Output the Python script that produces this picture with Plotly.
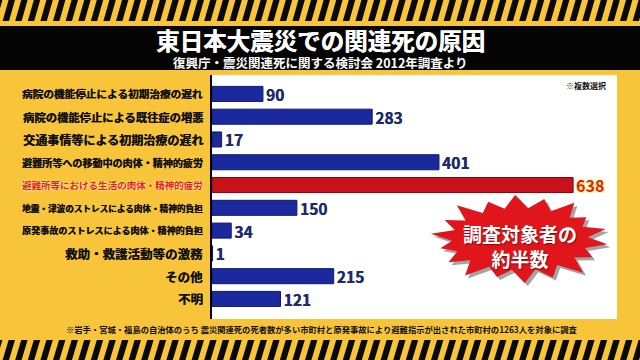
import numpy as np
import plotly.graph_objects as go

# ---------------- data ----------------
categories = [
    "病院の機能停止による初期治療の遅れ",
    "病院の機能停止による既往症の増悪",
    "交通事情等による初期治療の遅れ",
    "避難所等への移動中の肉体・精神的疲労",
    "避難所等における生活の肉体・精神的疲労",
    "地震・津波のストレスによる肉体・精神的負担",
    "原発事故のストレスによる肉体・精神的負担",
    "救助・救護活動等の激務",
    "その他",
    "不明",
]
values = [90, 283, 17, 401, 638, 150, 34, 1, 215, 121]
highlight = "避難所等における生活の肉体・精神的疲労"

title = "東日本大震災での関連死の原因"
subtitle = "復興庁・震災関連死に関する検討会 2012年調査より"
note_top = "※複数選択"
note_bottom = ("※岩手・宮城・福島の自治体のうち 震災関連死の死者数が多い市町村と"
               "原発事故により避難指示が出された市町村の1263人を対象に調査")
burst_text = "調査対象者の<br>約半数"

# ---------------- styling ----------------
FONT = "Noto Sans CJK JP"
YELLOW = "#F8C43A"
BLUE = "#1a2a9e"
RED = "#c8121b"
NAVY = "#1c2b6e"
W, H = 640, 360
L, R, T, B = 212, 617, 75, 319
LABEL_W = 181


def px(x):
    return (x - L) / (R - L)


def py(y):
    return (B - y) / (B - T)


is_hi = [c == highlight for c in categories]
main_x = [None if h else v for v, h in zip(values, is_hi)]
hi_x = [v if h else None for v, h in zip(values, is_hi)]

fig = go.Figure()
fig.add_trace(go.Bar(
    y=categories, x=main_x, orientation="h", width=0.66,
    marker=dict(color=BLUE, line=dict(color="#0e1a6a", width=1)),
    texttemplate="%{x}", textposition="outside", constraintext="none",
    cliponaxis=False,
    textfont=dict(family=FONT, size=15.5, color=NAVY, weight="bold",
                  shadow="0.4px 0 0 #1c2b6e"),
    hoverinfo="skip",
))
fig.add_trace(go.Bar(
    y=categories, x=hi_x, orientation="h", width=0.66,
    marker=dict(color=RED, line=dict(color="#7a0a0e", width=1)),
    texttemplate="%{x}", textposition="outside", constraintext="none",
    cliponaxis=False,
    textfont=dict(family=FONT, size=16, color="#e01f18", weight="bold",
                  shadow="0 0 3px #fff27a, 0 0 3px #fff27a, 0 0 2px #ffffa0"),
    hoverinfo="skip",
))

shapes = []
# title band
shapes.append(dict(type="rect", xref="paper", yref="paper",
                   x0=px(0), x1=px(W), y0=py(26), y1=py(70),
                   fillcolor="#050505", line=dict(width=0), layer="below"))


# hazard stripes
def stripes(y0, y1, period=12.6, bw=6.4, slant=6.0, start=-10):
    parts = []
    x = start
    while x < W + 10:
        pts = [(x, y1), (x + bw, y1), (x + bw + slant, y0), (x + slant, y0)]
        parts.append("M " + " L ".join(f"{px(a):.5f},{py(b):.5f}" for a, b in pts) + " Z")
        x += period
    return " ".join(parts)


for (a, b) in [(0, 21), (340, 360)]:
    shapes.append(dict(type="path", xref="paper", yref="paper",
                       path=stripes(a, b), fillcolor="#0a0a0a",
                       line=dict(width=0), layer="above"))

# starburst (decoration)
cx, cy = 520, 239
n = 18
ang = np.linspace(0, 2 * np.pi, 2 * n, endpoint=False) + 0.12
jit = np.array([1.0, 0.92, 1.05, 0.95, 1.0, 0.9, 1.04, 0.97, 0.93, 1.02,
                0.96, 1.05, 0.92, 1.0, 0.95, 1.03, 0.9, 1.0])
rx = np.where(np.arange(2 * n) % 2 == 0, 88, 68)
ry = np.where(np.arange(2 * n) % 2 == 0, 44, 31)
scale = np.repeat(jit, 2)
bx = cx + rx * np.cos(ang) * np.where(np.arange(2 * n) % 2 == 0, scale, 1)
by = cy + ry * np.sin(ang) * np.where(np.arange(2 * n) % 2 == 0, scale, 1)


def burst_path(dx, dy):
    return "M " + " L ".join(f"{px(a + dx):.5f},{py(b + dy):.5f}" for a, b in zip(bx, by)) + " Z"


shapes.append(dict(type="path", xref="paper", yref="paper", path=burst_path(3, 3),
                   fillcolor="rgba(90,90,90,0.55)", line=dict(width=0), layer="above"))
shapes.append(dict(type="path", xref="paper", yref="paper", path=burst_path(0, 0),
                   fillcolor="#e1151c", line=dict(width=0), layer="above"))

annotations = []
for c, h in zip(categories, is_hi):
    size = min(12.5, LABEL_W / len(c))
    col = "#e8201a" if h else "#111111"
    annotations.append(dict(
        x=0, xref="paper", y=c, yref="y", xanchor="right", yanchor="middle",
        xshift=-7, text=c, showarrow=False,
        font=dict(family=FONT, size=size, weight="bold", color=col,
                  shadow=("0 0 2px #fff7b0, 0 0 2px #fff7b0" if h
                          else f"0.35px 0 0 {col}")),
    ))

annotations += [
    dict(x=px(320), y=py(40.5), xref="paper", yref="paper", text=title,
         xanchor="center", yanchor="middle", borderpad=0,
         showarrow=False, font=dict(family=FONT, size=23.5, color="white", weight="bold",
                                    shadow="0.4px 0 0 #ffffff")),
    dict(x=px(320), y=py(62), xref="paper", yref="paper", text=subtitle,
         xanchor="center", yanchor="middle", borderpad=0,
         showarrow=False, font=dict(family=FONT, size=12.5, color="white", weight="bold")),
    dict(x=px(608), y=py(85), xref="paper", yref="paper", text=note_top,
         xanchor="right", yanchor="middle",
         showarrow=False, font=dict(family=FONT, size=8, color="#111111", weight="bold")),
    dict(x=px(322), y=py(328.5), xref="paper", yref="paper", text=note_bottom,
         xanchor="center", yanchor="middle",
         showarrow=False, font=dict(family=FONT, size=8.3, color="#111111", weight="bold")),
    dict(x=px(520), y=py(246), xref="paper", yref="paper", text=burst_text,
         xanchor="center", yanchor="middle", showarrow=False,
         font=dict(family=FONT, size=19, color="white", weight="bold",
                   shadow="1px 1px 1px rgba(80,0,0,0.6)")),
]

fig.update_layout(
    width=W, height=H,
    margin=dict(l=L, r=W - R, t=T, b=H - B, pad=0),
    paper_bgcolor=YELLOW, plot_bgcolor="white",
    barmode="overlay", showlegend=False,
    shapes=shapes, annotations=annotations,
    xaxis=dict(range=[0, (R - L) / 0.566], visible=False, fixedrange=True),
    yaxis=dict(type="category", categoryorder="array", categoryarray=categories,
               range=[9.88, -0.83], showticklabels=False, showgrid=False,
               showline=True, linecolor="black", linewidth=2, ticks="",
               zeroline=False, fixedrange=True),
)

fig.write_html("out.html")
